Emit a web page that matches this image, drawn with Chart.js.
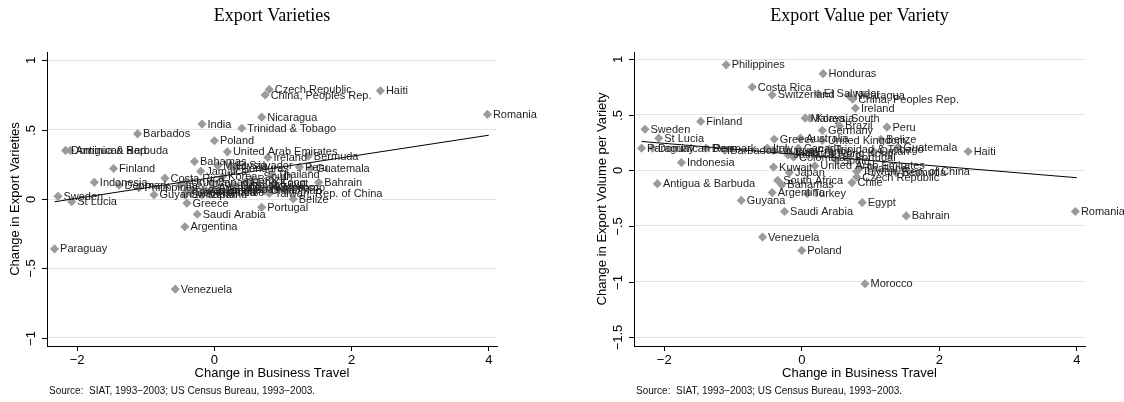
<!DOCTYPE html>
<html>
<head>
<meta charset="utf-8">
<script src="https://cdn.jsdelivr.net/npm/chart.js@4.4.0/dist/chart.umd.min.js"></script>
<style>
    html, body { margin: 0; padding: 0; background: #ffffff; }
    #wrap { position: relative; width: 1124px; height: 402px; }
    .panel { position: absolute; top: 0; width: 562px; height: 402px; }
</style>
</head>
<body>
<div id="wrap">
    <div class="panel" style="left:0px"><canvas id="varieties_chart" width="562" height="402"></canvas></div>
    <div class="panel" style="left:562px"><canvas id="value_chart" width="562" height="402"></canvas></div>
</div>
<script>

// country labels, and the change in business travel (x, shared by both panels)
let country_names = [
    'Romania', 'Haiti', 'Czech Republic', 'China, Peoples Rep.', 'Nicaragua',
    'Ireland', 'Bermuda', 'Peru', 'Guatemala', 'Poland',
    'India', 'Trinidad & Tobago', 'Barbados', 'United Arab Emirates', 'Antigua & Barbuda',
    'Dominican Rep.', 'Finland', 'Bahamas', 'El Salvador', 'Honduras',
    'Thailand', 'Jamaica', 'Korea, South', 'Malaysia', 'Brazil',
    'Germany', 'Belize', 'Taiwan, Rep. of China', 'Bahrain', 'Egypt',
    'Chile', 'Morocco', 'Portugal', 'Argentina', 'Saudi Arabia',
    'Venezuela', 'Greece', 'Turkey', 'Guyana', 'Philippines',
    'Costa Rica', 'Switzerland', 'Sweden', 'St Lucia', 'Paraguay',
    'Indonesia', 'Denmark', 'Italy', 'Uruguay', 'Australia',
    'Colombia', 'Kuwait', 'Japan', 'South Africa', 'United Kingdom',
    'Oman', 'Hong Kong', 'Canada', 'France', 'Spain'
];

let travel_change = [
    3.98, 2.42, 0.80, 0.74, 0.69,
    0.78, 1.37, 1.24, 1.40, 0.00,
    -0.18, 0.40, -1.12, 0.19, -2.10,
    -2.17, -1.47, -0.29, 0.24, 0.31,
    0.84, -0.20, 0.12, 0.05, 0.55,
    0.30, 1.15, 0.80, 1.52, 0.88,
    0.73, 0.92, 0.69, -0.43, -0.25,
    -0.57, -0.40, 0.08, -0.88, -1.10,
    -0.72, -0.43, -2.28, -2.08, -2.33,
    -1.75, -1.39, -0.50, -0.42, -0.02,
    -0.12, -0.41, -0.18, -0.35, 0.30,
    1.05, 0.45, -0.05, 0.15, 0.50
];

// change in export varieties (left panel)
let varieties_change = [
    0.61, 0.78, 0.79, 0.75, 0.59,
    0.30, 0.31, 0.23, 0.22, 0.42,
    0.54, 0.51, 0.47, 0.34, 0.35,
    0.35, 0.22, 0.27, 0.24, 0.22,
    0.18, 0.20, 0.16, 0.24, 0.14,
    0.10, 0.00, 0.04, 0.12, 0.11,
    0.06, 0.08, -0.06, -0.20, -0.11,
    -0.65, -0.03, 0.06, 0.03, 0.08,
    0.15, 0.03, 0.02, -0.02, -0.36,
    0.12, 0.10, 0.10, 0.12, 0.08,
    0.06, 0.06, 0.03, 0.05, 0.08,
    0.06, 0.12, 0.12, 0.05, 0.07
];

// change in export volume per variety (right panel)
let value_change = [
    -0.37, 0.17, -0.06, 0.64, 0.67,
    0.56, -0.02, 0.39, 0.21, -0.72,
    0.16, 0.19, 0.18, 0.04, -0.12,
    0.20, 0.44, -0.13, 0.69, 0.87,
    0.02, 0.14, 0.47, 0.47, 0.40,
    0.36, 0.28, -0.01, -0.41, -0.29,
    -0.11, -1.02, 0.12, -0.20, -0.37,
    -0.60, 0.28, -0.21, -0.27, 0.95,
    0.75, 0.68, 0.37, 0.29, 0.20,
    0.07, 0.20, 0.20, 0.18, 0.29,
    0.12, 0.03, -0.02, -0.09, 0.27,
    0.17, 0.15, 0.20, 0.17, 0.09
];

// fitted lines (end points)
let fit_varieties_x = [-2.33, 4.0];
let fit_varieties_y = [-0.02, 0.46];
let fit_value_x = [-2.33, 4.0];
let fit_value_y = [0.26, -0.066];

// tick values
let x_ticks = [-2, 0, 2, 4];
let y_ticks_varieties = [-1, -0.5, 0, 0.5, 1];
let y_ticks_value = [-1.5, -1, -0.5, 0, 0.5, 1];

let sans = '"Liberation Sans", Arial, sans-serif';
let serif = '"Liberation Serif", "DejaVu Serif", serif';
let source_text = 'Source:  SIAT, 1993\u22122003; US Census Bureau, 1993\u22122003.';


function stata_number(v) {
    let s = String(Math.abs(v));
    if (s.startsWith('0.')) s = s.slice(1);
    return (v < 0 ? '\u2212' : '') + s;
}


// titles, rotated y tick labels, source note and point labels
let decorations = {
    id: 'decorations',

    afterDatasetsDraw(chart) {
        let ctx = chart.ctx;
        let meta = chart.getDatasetMeta(1);
        ctx.save();
        ctx.font = '11px ' + sans;
        ctx.fillStyle = '#1e1e1e';
        ctx.textAlign = 'left';
        ctx.textBaseline = 'middle';
        meta.data.forEach(function(pt, i) {
            ctx.fillText(country_names[i], pt.x + 5.5, pt.y + 0.5);
        });
        ctx.restore();
    },

    afterDraw(chart) {
        let ctx = chart.ctx;
        let area = chart.chartArea;
        let cfg = chart.options.plugins.decorations;
        let y = chart.scales.y;

        ctx.save();

        // title
        ctx.font = '18px ' + serif;
        ctx.fillStyle = '#000';
        ctx.textAlign = 'center';
        ctx.textBaseline = 'middle';
        ctx.fillText(cfg.title, (area.left + area.right) / 2, 16);

        // y ticks: marks and vertical labels
        ctx.strokeStyle = '#000';
        ctx.lineWidth = 1;
        ctx.font = '13px ' + sans;
        cfg.yTicks.forEach(function(v) {
            let py = Math.round(y.getPixelForValue(v)) + 0.5;
            ctx.beginPath();
            ctx.moveTo(area.left - 5, py);
            ctx.lineTo(area.left, py);
            ctx.stroke();

            ctx.save();
            ctx.translate(area.left - 16, py);
            ctx.rotate(-Math.PI / 2);
            ctx.fillText(stata_number(v), 0, 0);
            ctx.restore();
        });

        // source note
        ctx.font = '10px ' + sans;
        ctx.textAlign = 'left';
        ctx.fillStyle = '#111';
        ctx.fillText(source_text, area.left + 2, 391);

        ctx.restore();
    }
};


function scatter_panel(canvas, opts) {

    let points = travel_change.map(function(x, i) {
        return { x: x, y: opts.values[i] };
    });
    let fit = opts.fitX.map(function(x, i) {
        return { x: x, y: opts.fitY[i] };
    });

    return new Chart(canvas, {
        type: 'scatter',

        data: {
            datasets: [
                // fitted line
                {
                    type: 'line',
                    data: fit,
                    borderColor: '#000',
                    borderWidth: 1,
                    pointRadius: 0,
                    fill: false,
                    clip: false
                },
                // countries
                {
                    data: points,
                    pointStyle: 'rectRot',
                    pointRadius: 4.6,
                    backgroundColor: '#9b9b9b',
                    borderWidth: 0,
                    clip: false
                }
            ]
        },

        options: {
            responsive: false,
            animation: false,
            events: [],

            layout: {
                padding: { top: 52, right: opts.padRight, bottom: 21, left: 0 }
            },

            plugins: {
                legend: { display: false },
                tooltip: { enabled: false },
                decorations: { title: opts.title, yTicks: opts.yTicks }
            },

            scales: {
                x: {
                    type: 'linear',
                    min: -2.44,
                    max: 4.12,
                    afterBuildTicks: function(scale) {
                        scale.ticks = x_ticks.map(v => ({ value: v }));
                    },
                    afterFit: function(scale) { scale.height = 35; },
                    grid: {
                        drawOnChartArea: false,
                        drawTicks: true,
                        tickLength: 5,
                        color: '#000'
                    },
                    border: { display: true, color: '#000', width: 1 },
                    ticks: {
                        color: '#000',
                        padding: 2,
                        maxRotation: 0,
                        font: { family: sans, size: 13 },
                        callback: function(v) { return stata_number(v); }
                    },
                    title: {
                        display: true,
                        text: 'Change in Business Travel',
                        color: '#000',
                        font: { family: sans, size: 13 },
                        padding: { top: 0, bottom: 0 }
                    }
                },

                y: {
                    type: 'linear',
                    min: opts.yMin,
                    max: opts.yMax,
                    afterBuildTicks: function(scale) {
                        scale.ticks = opts.yTicks.map(v => ({ value: v }));
                    },
                    afterFit: function(scale) { scale.width = opts.yWidth; },
                    grid: {
                        drawTicks: false,
                        color: '#e4e4e4',
                        lineWidth: 1
                    },
                    border: { display: true, color: '#000', width: 1 },
                    ticks: { display: false },
                    title: {
                        display: true,
                        text: opts.yTitle,
                        color: '#000',
                        font: { family: sans, size: 13 },
                        padding: { top: opts.yTitlePad, bottom: 0 }
                    }
                }
            }
        },

        plugins: [decorations]
    });
}


scatter_panel(document.getElementById('varieties_chart'), {
    title: 'Export Varieties',
    yTitle: 'Change in Export Varieties',
    values: varieties_change,
    fitX: fit_varieties_x,
    fitY: fit_varieties_y,
    yTicks: y_ticks_varieties,
    yMin: -1.06,
    yMax: 1.06,
    yWidth: 47,
    yTitlePad: 8,
    padRight: 65
});

scatter_panel(document.getElementById('value_chart'), {
    title: 'Export Value per Variety',
    yTitle: 'Change in Export Volume per Variety',
    values: value_change,
    fitX: fit_value_x,
    fitY: fit_value_y,
    yTicks: y_ticks_value,
    yMin: -1.58,
    yMax: 1.065,
    yWidth: 72,
    yTitlePad: 33,
    padRight: 39
});

</script>
</body>
</html>
